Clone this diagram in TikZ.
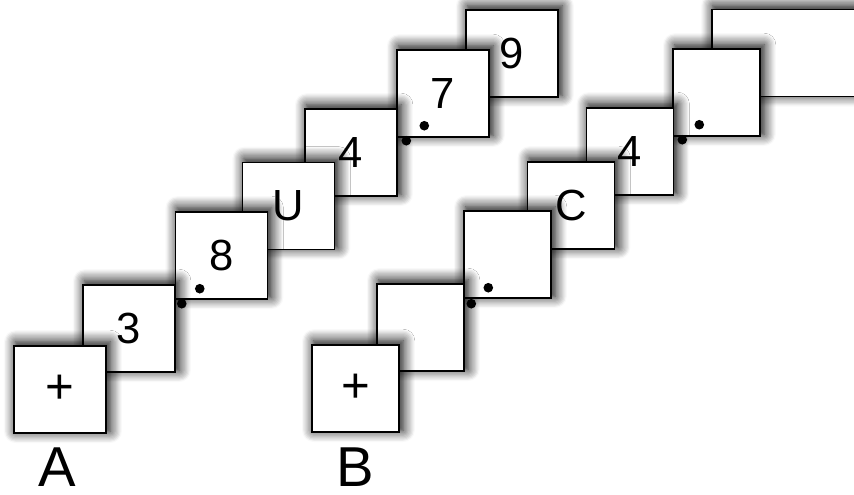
\documentclass[tikz,border=0pt]{standalone}
\usepackage{fontspec}
\setmainfont{Liberation Sans}
\usetikzlibrary{shadows.blur,calc}

\begin{document}
\begin{tikzpicture}[
    x=0.025cm, y=-0.025cm,
    box/.style={rectangle, draw, line width=1pt, fill=white, inner sep=0pt,
        minimum width=2.3cm, minimum height=2.175cm, font=\fontsize{31}{34}\selectfont,
        blur shadow={shadow xshift=2pt, shadow yshift=2pt, shadow scale=1.03,
            shadow blur radius=8pt, shadow blur steps=10, shadow opacity=100}},
    sbox/.style={box, minimum width=2.175cm},
    dot/.style={circle, fill=black, inner sep=0pt, minimum size=0.24cm},
    tag/.style={font=\fontsize{40}{44}\selectfont}
]
\clip (0,0) rectangle (854,494);

% Row A, back to front
\node[box] (a9) at (512,53.5) {9};
\node[box] (a7) at (443,93.5) {7};
\node[box] (a4) at (351,152.5) {4};
\node[box] (aU) at (288.5,206) {U};
\node[box] (a8) at (221.5,255.5) {8};
\node[box] (a3) at (129,328.5) {3};
\node[box, font=\fontsize{35}{38}\selectfont] (aplus) at (60,389.5) {+};

% Row B, back to front
\node[sbox, minimum width=3.6cm] (b7) at (784,53) {};
\node[sbox] (b6) at (716.5,92.5) {};
\node[sbox] (b4) at (630,151.5) {4};
\node[sbox] (bC) at (571,205.5) {C};
\node[sbox] (b3) at (507.5,254.5) {};
\node[sbox] (b2) at (420.5,327.5) {};
\node[sbox, font=\fontsize{35}{38}\selectfont] (bplus) at (355.5,388.5) {+};

% Dots
\node[dot] (a8d1) at ($(a8.south west)+(7,4)$) {};
\node[dot] (a8d2) at ($(a8.south west)+(25,-11)$) {};
\node[dot] (a7d1) at ($(a7.south west)+(10,3)$) {};
\node[dot] (a7d2) at ($(a7.south west)+(28,-12)$) {};
\node[dot] (b3d1) at ($(b3.south west)+(8,5)$) {};
\node[dot] (b3d2) at ($(b3.south west)+(25,-11)$) {};
\node[dot] (b6d1) at ($(b6.south west)+(10,3)$) {};
\node[dot] (b6d2) at ($(b6.south west)+(27,-12)$) {};

% Labels
\node[tag] (la) at (57,467) {A};
\node[tag] (lb) at (355,467) {B};

\end{tikzpicture}
\end{document}
